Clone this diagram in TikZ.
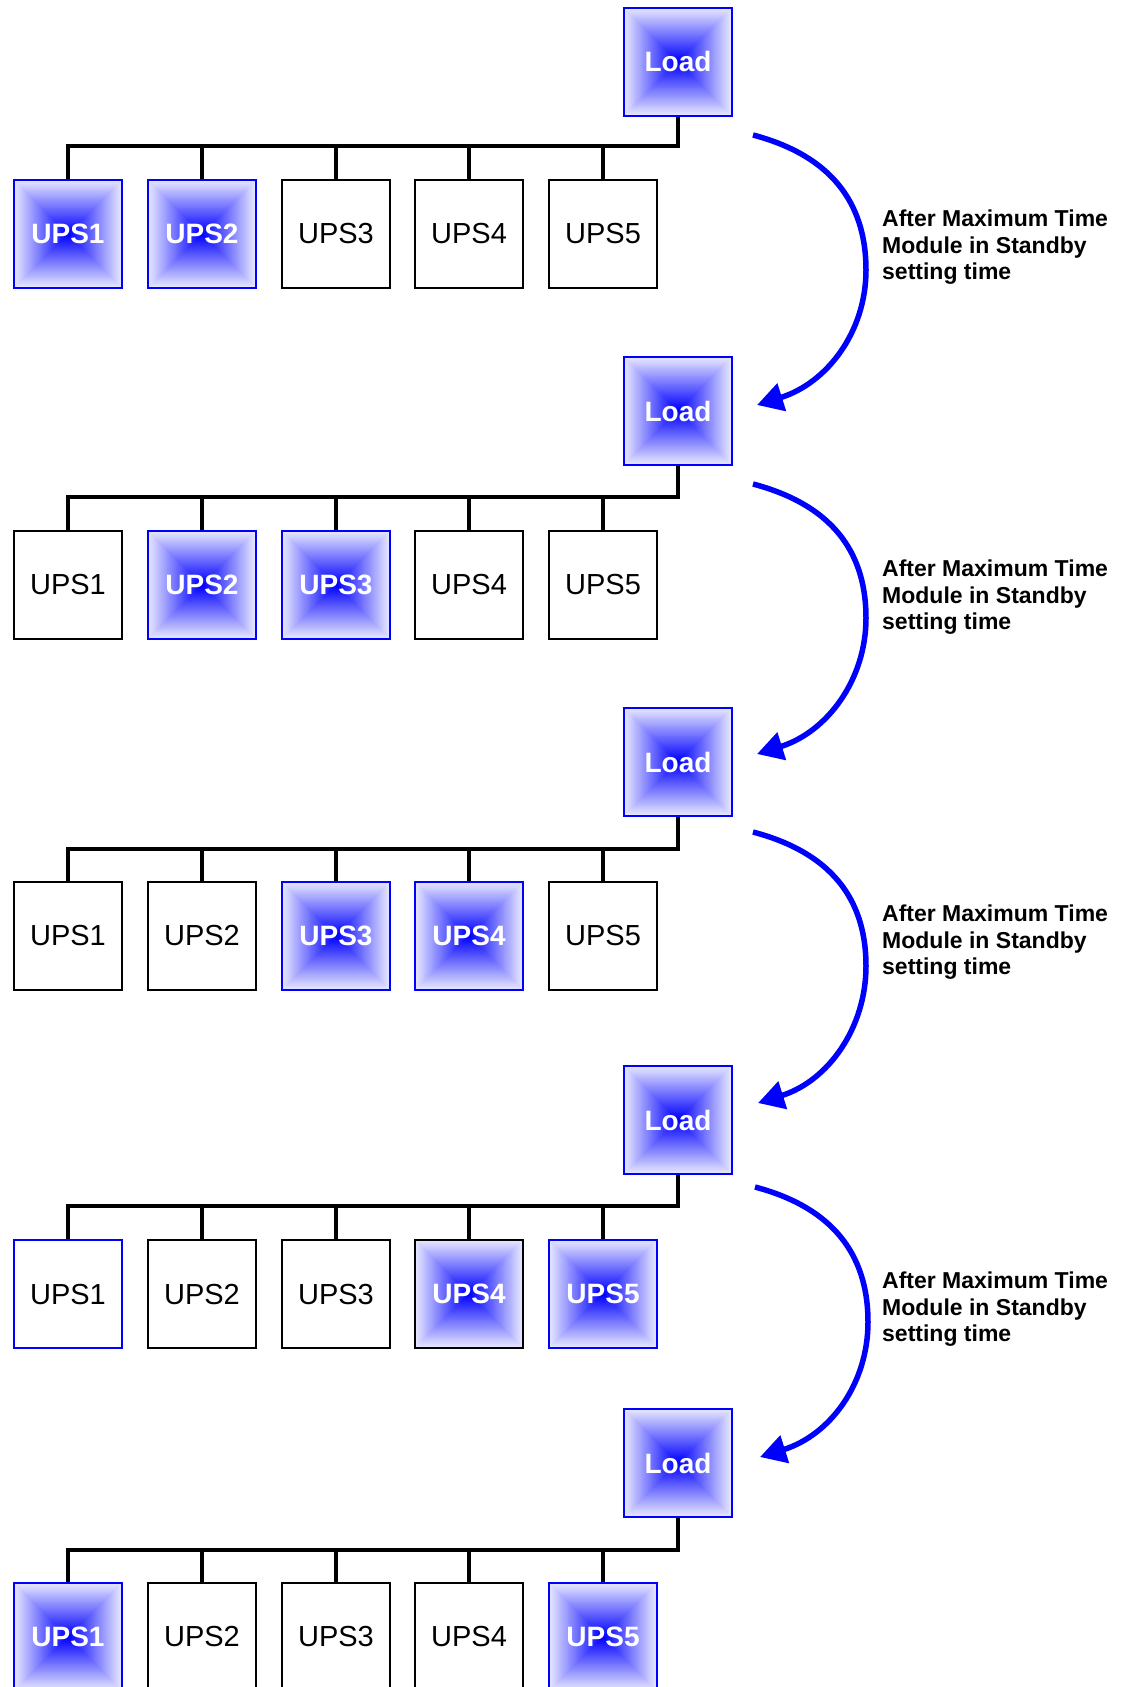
\documentclass[tikz,border=0pt]{standalone}
\usepackage{fontspec}
\setmainfont{Liberation Sans}
\usetikzlibrary{arrows.meta}
\definecolor{pblue}{RGB}{0,0,255}
\definecolor{pedge}{RGB}{232,232,255}
\begin{document}
\begin{tikzpicture}[x=1pt,y=-1pt,
 box/.style={rectangle, minimum width=108pt, minimum height=108pt, inner sep=0pt, line width=2pt},
 onbox/.style={box, draw=pblue, text=white, font=\fontsize{28}{30}\selectfont\bfseries,
   path picture={
    \foreach \s in {54,53,...,1}{
      \pgfmathtruncatemacro\pyrpct{round(100*(54-\s)/53)}
      \fill[pblue!\pyrpct!pedge] ([shift={(-\s,-\s)}]path picture bounding box.center) rectangle ([shift={(\s,\s)}]path picture bounding box.center);
    }
   }},
 offbox/.style={box, draw=black, fill=white, text=black, font=\fontsize{29}{30}\selectfont},
 bus/.style={line width=4.5pt, draw=black},
 flow/.style={line width=5.5pt, draw=pblue, -{Triangle[length=26pt,width=28pt]}},
 note/.style={font=\fontsize{23}{26.5}\selectfont\bfseries, align=left, anchor=north west, inner sep=0pt}]
\useasboundingbox (0,0) rectangle (1134,1687);

% Row 1
\node[onbox] (L1) at (678,61.5) {Load};
\node[onbox] (u11) at (68,233.5) {UPS1};
\node[onbox] (u12) at (202,233.5) {UPS2};
\node[offbox] (u13) at (336,233.5) {UPS3};
\node[offbox] (u14) at (469,233.5) {UPS4};
\node[offbox] (u15) at (603,233.5) {UPS5};
\coordinate (b1) at (0,146);
% Row 2
\node[onbox] (L2) at (678,411) {Load};
\node[offbox] (u21) at (68,585) {UPS1};
\node[onbox] (u22) at (202,585) {UPS2};
\node[onbox] (u23) at (336,585) {UPS3};
\node[offbox] (u24) at (469,585) {UPS4};
\node[offbox] (u25) at (603,585) {UPS5};
\coordinate (b2) at (0,497);
% Row 3
\node[onbox] (L3) at (678,762) {Load};
\node[offbox] (u31) at (68,936) {UPS1};
\node[offbox] (u32) at (202,936) {UPS2};
\node[onbox] (u33) at (336,936) {UPS3};
\node[onbox] (u34) at (469,936) {UPS4};
\node[offbox] (u35) at (603,936) {UPS5};
\coordinate (b3) at (0,849);
% Row 4
\node[onbox] (L4) at (678,1120) {Load};
\node[offbox,draw=pblue] (u41) at (68,1294) {UPS1};
\node[offbox] (u42) at (202,1294) {UPS2};
\node[offbox] (u43) at (336,1294) {UPS3};
\node[onbox,draw=black] (u44) at (469,1294) {UPS4};
\node[onbox] (u45) at (603,1294) {UPS5};
\coordinate (b4) at (0,1206);
% Row 5
\node[onbox] (L5) at (678,1463) {Load};
\node[onbox] (u51) at (68,1636.5) {UPS1};
\node[offbox] (u52) at (202,1636.5) {UPS2};
\node[offbox] (u53) at (336,1636.5) {UPS3};
\node[offbox] (u54) at (469,1636.5) {UPS4};
\node[onbox] (u55) at (603,1636.5) {UPS5};
\coordinate (b5) at (0,1550);

% Buses
\foreach \r in {1,...,5}{
  \draw[bus] (L\r.south) -- (L\r.south |- b\r) -| (u\r1.north);
  \foreach \k in {2,...,5}{
    \draw[bus] (u\r\k.north) -- (u\r\k.north |- b\r);
  }
}

% Flow arrows
\coordinate (s1) at (753,135);  \coordinate (m1) at (866,270);  \coordinate (e1) at (757,405);
\coordinate (s2) at (753,484);  \coordinate (m2) at (866,618);  \coordinate (e2) at (757,754);
\coordinate (s3) at (753,832);  \coordinate (m3) at (866,966);  \coordinate (e3) at (758,1103);
\coordinate (s4) at (755,1187); \coordinate (m4) at (868,1322); \coordinate (e4) at (760,1457);
\foreach \r in {1,...,4}{
  \draw[flow] (s\r) .. controls +(87,23) and +(0,-58) .. (m\r) .. controls +(0,62) and +(70,-22) .. (e\r);
}

% Notes
\node[note] (t1) at (882,210) {After Maximum Time\\Module in Standby\\setting time};
\node[note] (t2) at (882,560) {After Maximum Time\\Module in Standby\\setting time};
\node[note] (t3) at (882,905) {After Maximum Time\\Module in Standby\\setting time};
\node[note] (t4) at (882,1272) {After Maximum Time\\Module in Standby\\setting time};
\end{tikzpicture}
\end{document}
